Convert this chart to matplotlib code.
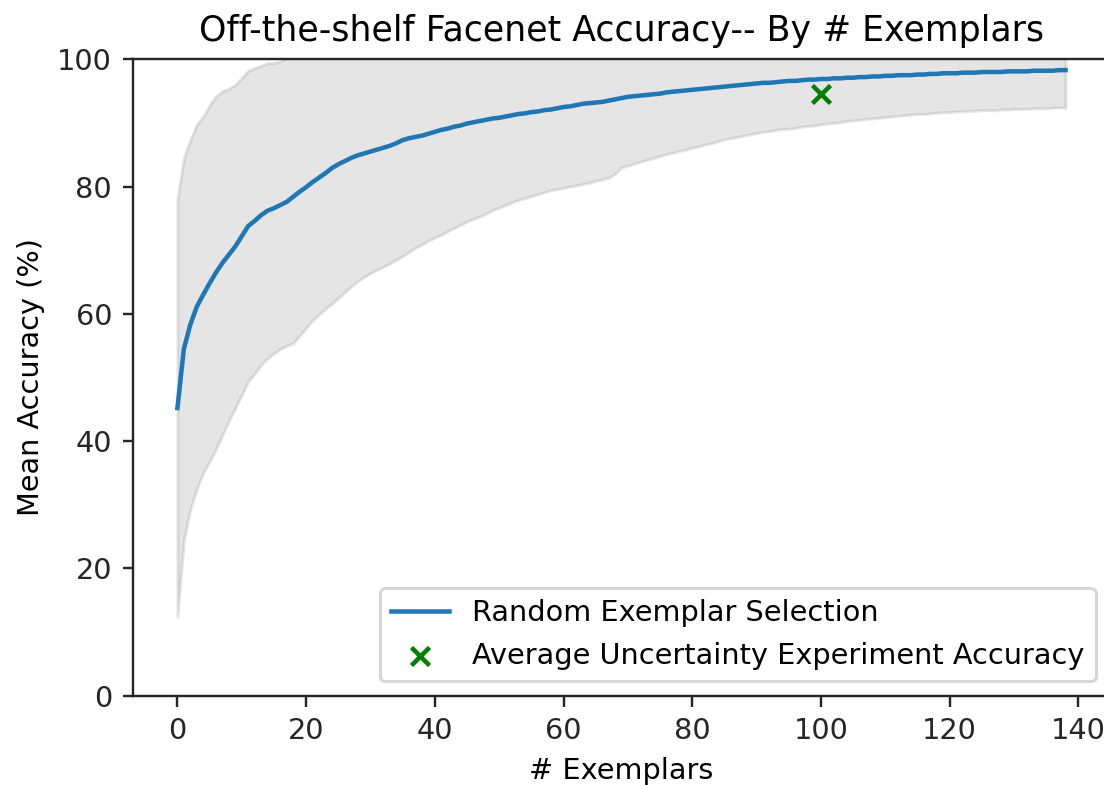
import matplotlib
matplotlib.use("Agg")
import matplotlib.pyplot as plt
import numpy as np

# ----- data -----
n_exemplars = list(range(0, 139))

mean_acc = [
    45.2, 54.5, 58.3, 61.1, 63.0, 64.8, 66.5, 68.0, 69.3, 70.6,
    72.2, 73.8, 74.6, 75.5, 76.2, 76.6, 77.1, 77.6, 78.4, 79.2,
    79.9, 80.7, 81.4, 82.1, 82.9, 83.5, 84.0, 84.5, 84.9, 85.2,
    85.5, 85.8, 86.1, 86.4, 86.8, 87.3, 87.6, 87.8, 88.0, 88.3,
    88.6, 88.9, 89.1, 89.4, 89.6, 89.9, 90.1, 90.3, 90.5, 90.7,
    90.8, 91.0, 91.2, 91.4, 91.5, 91.7, 91.8, 92.0, 92.1, 92.3,
    92.5, 92.6, 92.8, 93.0, 93.1, 93.2, 93.3, 93.5, 93.7, 93.9,
    94.1, 94.2, 94.3, 94.4, 94.5, 94.6, 94.8, 94.9, 95.0, 95.1,
    95.2, 95.3, 95.4, 95.5, 95.6, 95.7, 95.8, 95.9, 96.0, 96.1,
    96.2, 96.3, 96.3, 96.4, 96.5, 96.6, 96.6, 96.7, 96.8, 96.8,
    96.9, 96.9, 97.0, 97.0, 97.1, 97.1, 97.2, 97.2, 97.3, 97.3,
    97.4, 97.4, 97.5, 97.5, 97.5, 97.6, 97.6, 97.7, 97.7, 97.8,
    97.8, 97.8, 97.9, 97.9, 97.9, 98.0, 98.0, 98.0, 98.0, 98.1,
    98.1, 98.1, 98.1, 98.2, 98.2, 98.2, 98.2, 98.3, 98.3,
]

# lower edge of the shaded band (mean - std)
lower_band = [
    12.4, 24.5, 29.3, 32.5, 35.0, 36.8, 38.8, 41.0, 43.2, 45.2,
    47.3, 49.4, 50.6, 52.0, 53.0, 53.8, 54.5, 55.0, 55.4, 56.6,
    57.8, 59.0, 59.9, 60.8, 61.6, 62.5, 63.4, 64.3, 65.1, 65.8,
    66.4, 66.9, 67.4, 67.9, 68.5, 69.1, 69.7, 70.4, 70.9, 71.5,
    72.0, 72.4, 73.0, 73.5, 74.0, 74.5, 74.9, 75.3, 75.8, 76.3,
    76.7, 77.1, 77.5, 77.9, 78.2, 78.5, 78.8, 79.1, 79.4, 79.6,
    79.8, 80.0, 80.2, 80.4, 80.6, 80.9, 81.1, 81.4, 82.0, 83.0,
    83.3, 83.6, 83.9, 84.2, 84.5, 84.8, 85.1, 85.3, 85.6, 85.8,
    86.1, 86.3, 86.6, 86.8, 87.1, 87.4, 87.6, 87.8, 88.0, 88.2,
    88.4, 88.6, 88.7, 88.9, 89.0, 89.1, 89.2, 89.4, 89.5, 89.6,
    89.8, 89.9, 90.0, 90.1, 90.3, 90.4, 90.5, 90.6, 90.7, 90.8,
    90.9, 91.0, 91.1, 91.2, 91.3, 91.4, 91.4, 91.5, 91.6, 91.7,
    91.7, 91.8, 91.8, 91.9, 91.9, 92.0, 92.0, 92.0, 92.1, 92.1,
    92.2, 92.2, 92.2, 92.3, 92.3, 92.3, 92.4, 92.4, 92.4,
]

uncertainty_x = [100]
uncertainty_acc = [94.5]

# ----- plot -----
plt.rcParams["font.size"] = 9.6
plt.rcParams["axes.titlesize"] = 11.6
plt.rcParams["axes.edgecolor"] = "#262626"
plt.rcParams["xtick.color"] = "#262626"
plt.rcParams["ytick.color"] = "#262626"

x = np.array(n_exemplars)
mean = np.array(mean_acc)
std = mean - np.array(lower_band)

fig = plt.figure(figsize=(1104 / 216, 785 / 216), dpi=216)
ax = fig.add_axes([0.1205, 0.1138, 0.8849, 0.8107])

ax.plot(x, mean, label="Random Exemplar Selection")
ax.fill_between(x, mean - std, mean + std, color="gray", alpha=0.2)
ax.scatter(uncertainty_x, uncertainty_acc, marker="x", color="green",
           label="Average Uncertainty Experiment Accuracy")

ax.set_ylim(0, 100)
ax.set_title("Off-the-shelf Facenet Accuracy-- By # Exemplars")
ax.set_xlabel("# Exemplars")
ax.set_ylabel("Mean Accuracy (%)")
ax.legend(loc="lower right")

fig.savefig("out.png", dpi=216)
